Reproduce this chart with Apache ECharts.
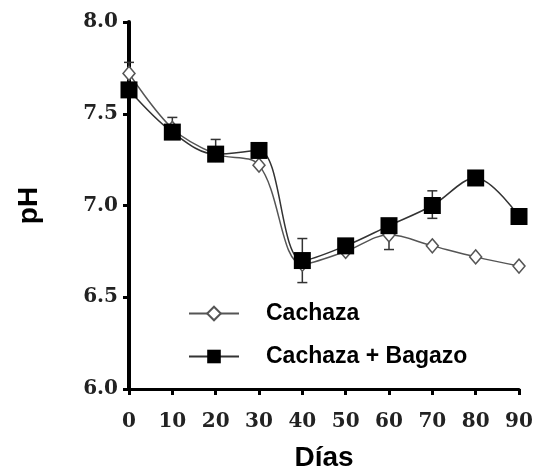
<!DOCTYPE html>
<html>
<head>
<meta charset="utf-8">
<script src="https://cdn.jsdelivr.net/npm/echarts@6/dist/echarts.min.js"></script>
<style>
  html, body { margin: 0; padding: 0; background: #fff; }
  #chart { width: 536px; height: 476px; }
</style>
</head>
<body>
<div id="chart"></div>
<script>
  // días
  var dias = [0, 10, 20, 30, 40, 50, 60, 70, 80, 90]
  // pH medio
  var cachaza = [7.72, 7.42, 7.28, 7.22, 6.68, 6.75, 6.84, 6.78, 6.72, 6.67]
  var cachazaBagazo = [7.63, 7.40, 7.28, 7.30, 6.70, 6.78, 6.89, 7.00, 7.15, 6.94]
  // error (arriba / abajo)
  var errCUp = [0.06, 0, 0, 0, 0, 0, 0, 0, 0, 0]
  var errCDown = [0, 0, 0, 0, 0, 0, 0.08, 0, 0, 0]
  var errBUp = [0, 0.08, 0.08, 0, 0.12, 0, 0, 0.08, 0, 0]
  var errBDown = [0, 0, 0, 0, 0.12, 0, 0, 0.07, 0, 0]

  var chart = echarts.init(document.getElementById('chart'))

  function pairs (ys) {
    return dias.map(function (d, i) { return [d, ys[i]] })
  }
  function errData (ys, up, down) {
    return dias.map(function (d, i) { return [d, ys[i] - down[i], ys[i] + up[i], ys[i]] })
  }
  function errBars (params, api) {
    var lo = api.coord([api.value(0), api.value(1)])
    var hi = api.coord([api.value(0), api.value(2)])
    var mid = api.coord([api.value(0), api.value(3)])
    var w = 5
    var style = { stroke: '#333', lineWidth: 1.5 }
    var kids = []
    if (hi[1] < mid[1] - 0.5) {
      kids.push({ type: 'line', shape: { x1: mid[0], y1: mid[1], x2: hi[0], y2: hi[1] }, style: style })
      kids.push({ type: 'line', shape: { x1: hi[0] - w, y1: hi[1], x2: hi[0] + w, y2: hi[1] }, style: style })
    }
    if (lo[1] > mid[1] + 0.5) {
      kids.push({ type: 'line', shape: { x1: mid[0], y1: mid[1], x2: lo[0], y2: lo[1] }, style: style })
      kids.push({ type: 'line', shape: { x1: lo[0] - w, y1: lo[1], x2: lo[0] + w, y2: lo[1] }, style: style })
    }
    return { type: 'group', children: kids }
  }

  var tickFont = {
    fontFamily: 'DejaVu Serif',
    fontWeight: 'bold',
    fontSize: 20,
    color: '#222'
  }

  chart.setOption({
    animation: false,
    grid: { left: 129, right: 17, top: 22, bottom: 87, outerBoundsMode: 'none' },
    legend: {
      orient: 'vertical',
      left: 183,
      top: 297,
      itemWidth: 50,
      itemHeight: 17,
      itemGap: 20,
      data: ['Cachaza', 'Cachaza + Bagazo'],
      textStyle: {
        fontFamily: 'Liberation Sans',
        fontWeight: 'bold',
        fontSize: 23,
        color: '#000',
        padding: [0, 0, 0, 22]
      }
    },
    xAxis: {
      type: 'value',
      min: 0,
      max: 90,
      interval: 10,
      name: 'Días',
      nameLocation: 'middle',
      nameGap: 55,
      nameTextStyle: { fontFamily: 'Liberation Sans', fontWeight: 'bold', fontSize: 28, color: '#000' },
      axisLine: { lineStyle: { color: '#000', width: 3 } },
      axisTick: { length: 6, lineStyle: { color: '#000', width: 3 } },
      axisLabel: Object.assign({ margin: 23 }, tickFont),
      splitLine: { show: false }
    },
    yAxis: {
      type: 'value',
      min: 6,
      max: 8,
      interval: 0.5,
      name: 'pH',
      nameLocation: 'middle',
      nameGap: 86,
      nameRotate: 90,
      nameTextStyle: { fontFamily: 'Liberation Sans', fontWeight: 'bold', fontSize: 28, color: '#000' },
      axisLine: { show: true, lineStyle: { color: '#000', width: 4 } },
      axisTick: { show: true, length: 6, lineStyle: { color: '#000', width: 3 } },
      axisLabel: Object.assign({ margin: 11, formatter: function (v) { return v.toFixed(1) } }, tickFont),
      splitLine: { show: false }
    },
    series: [{
      name: 'errC',
      type: 'custom',
      renderItem: errBars,
      data: errData(cachaza, errCUp, errCDown),
      z: 1
    }, {
      name: 'errB',
      type: 'custom',
      renderItem: errBars,
      data: errData(cachazaBagazo, errBUp, errBDown),
      z: 1
    }, {
      name: 'Cachaza',
      type: 'line',
      smooth: 0.35,
      data: pairs(cachaza),
      symbol: 'diamond',
      symbolSize: [12, 14],
      lineStyle: { color: '#555', width: 1.5 },
      itemStyle: { color: '#fff', borderColor: '#555', borderWidth: 1.5 },
      z: 3
    }, {
      name: 'Cachaza + Bagazo',
      type: 'line',
      smooth: 0.35,
      data: pairs(cachazaBagazo),
      symbol: 'rect',
      symbolSize: 17,
      lineStyle: { color: '#333', width: 1.5 },
      itemStyle: { color: '#000', borderColor: '#000', borderWidth: 0 },
      z: 4
    }]
  })
</script>
</body>
</html>
